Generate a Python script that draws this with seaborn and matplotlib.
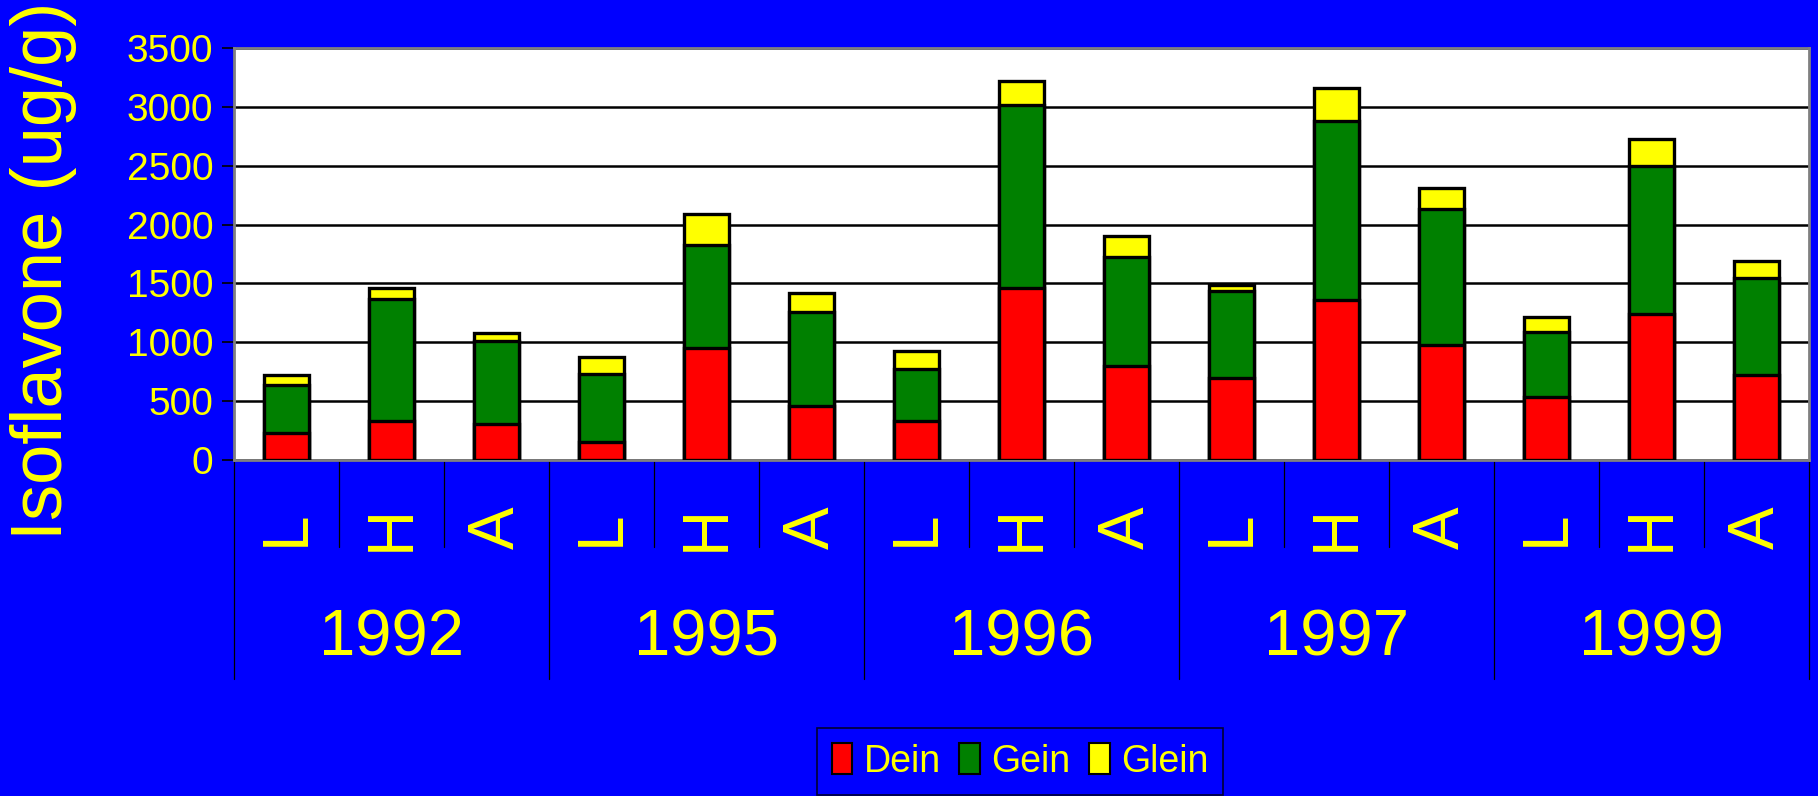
import matplotlib
matplotlib.use("Agg")
import matplotlib.pyplot as plt
import pandas as pd
import seaborn as sns
from matplotlib.patches import Patch
from matplotlib.transforms import blended_transform_factory

# --- Data ---
years = ["1992", "1995", "1996", "1997", "1999"]
levels = ["L", "H", "A"]
dein = [230, 335, 309, 150, 954, 463, 335, 1465, 798, 695, 1362, 979, 539, 1238, 724]
gein = [411, 1030, 699, 577, 874, 797, 440, 1547, 928, 744, 1519, 1156, 545, 1260, 820]
glein = [80, 100, 73, 147, 258, 156, 150, 204, 179, 51, 281, 178, 128, 230, 151]

BLUE = "#0000FF"
YELLOW = "#FFFF00"
RED = "#FF0000"
GREEN = "#008000"

rows = []
i = 0
for y in years:
    for lv in levels:
        rows.append({"key": f"{y}-{lv}", "year": y, "level": lv,
                     "Dein": dein[i], "Gein": gein[i], "Glein": glein[i]})
        i += 1
df = pd.DataFrame(rows)
df["dein_gein"] = df["Dein"] + df["Gein"]
df["total"] = df["dein_gein"] + df["Glein"]

sns.set_style("white")
plt.rcParams["font.family"] = ["Liberation Sans", "DejaVu Sans"]

fig = plt.figure(figsize=(18.18, 7.96), dpi=100, facecolor=BLUE)
ax = fig.add_axes([0.1287, 0.422, 0.995 - 0.1287, 0.9397 - 0.422])
ax.set_facecolor("white")

# stacked bars drawn back to front
bar_kw = dict(x="key", edgecolor="black", linewidth=2.4, width=0.43,
              saturation=1, errorbar=None, ax=ax, zorder=3)
sns.barplot(data=df, y="total", color=YELLOW, **bar_kw)
sns.barplot(data=df, y="dein_gein", color=GREEN, **bar_kw)
sns.barplot(data=df, y="Dein", color=RED, **bar_kw)

n = len(df)
ax.set_ylim(0, 3500)
ax.set_yticks(range(0, 3501, 500))
ax.yaxis.grid(True, color="black", linewidth=1.8)
ax.set_axisbelow(True)
ax.tick_params(axis="y", colors="black", labelcolor=YELLOW, labelsize=28,
               length=9, width=1.2, direction="out", pad=6, left=True)
for s in ax.spines.values():
    s.set_color("#808080")
    s.set_linewidth(2)

ax.set_xlabel("")
ax.set_ylabel("")
ax.set_xticks([])

# multi-level category axis
trans = blended_transform_factory(ax.transData, ax.transAxes)
for j in range(n + 1):
    xb = j - 0.5
    low = -0.532 if j % 3 == 0 else -0.211
    ax.plot([xb, xb], [0, low], color="black", lw=0.9, transform=trans, clip_on=False)
for j, lv in enumerate(df["level"]):
    ax.text(j, -0.165, lv, transform=trans, rotation=90, ha="center", va="center",
            color=YELLOW, fontsize=46)
for g, y in enumerate(years):
    ax.text(g * 3 + 1, -0.432, y, transform=trans, ha="center", va="center",
            color=YELLOW, fontsize=47)
ax.set_xlim(-0.5, n - 0.5)

fig.text(44 / 1818, 1 - 271 / 796, "Isoflavone (ug/g)", rotation=90,
         ha="center", va="center", color=YELLOW, fontsize=52)

handles = [Patch(facecolor=c, edgecolor="black", linewidth=1.5, label=l)
           for c, l in [(RED, "Dein"), (GREEN, "Gein"), (YELLOW, "Glein")]]
leg = fig.legend(handles=handles, loc="upper center", ncol=3,
                 bbox_to_anchor=(0.561, 1 - 728 / 796), frameon=True,
                 facecolor=BLUE, edgecolor="black", fontsize=27,
                 handlelength=0.55, handleheight=0.9, handletextpad=0.3,
                 columnspacing=0.5, borderpad=0.4, borderaxespad=0,
                 fancybox=False)
leg.get_frame().set_linewidth(1.2)
for t in leg.get_texts():
    t.set_color(YELLOW)

fig.savefig("out.png", dpi=100, facecolor=BLUE)
